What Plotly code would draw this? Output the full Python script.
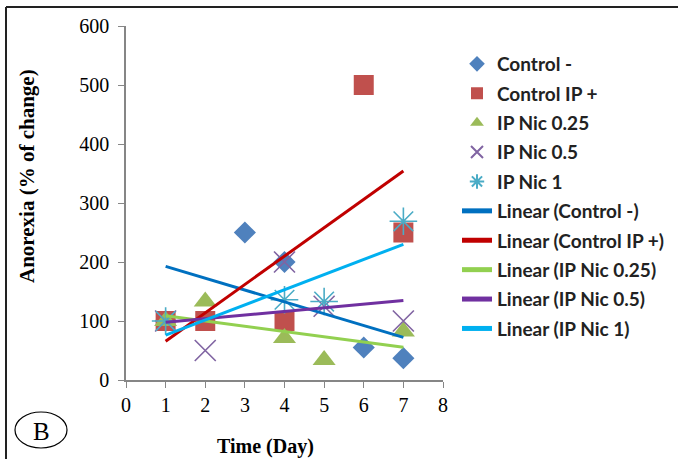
import numpy as np
import plotly.graph_objects as go

# Data
series_names = ["Control -", "Control IP +", "IP Nic 0.25", "IP Nic 0.5", "IP Nic 1"]
ctrl_neg_x = [1, 3, 4, 6, 7]
ctrl_neg_y = [100, 250, 200, 55, 37]
ctrl_pos_x = [1, 2, 4, 6, 7]
ctrl_pos_y = [100, 100, 100, 500, 250]
nic025_x = [1, 2, 4, 5, 7]
nic025_y = [100, 133, 71, 34, 82]
nic05_x = [1, 2, 4, 5, 7]
nic05_y = [100, 50, 200, 125, 100]
nic1_x = [1, 4, 5, 7]
nic1_y = [100, 136, 133, 269]

x_ticks = [0, 1, 2, 3, 4, 5, 6, 7, 8]
y_ticks = [0, 100, 200, 300, 400, 500, 600]

marker_colors = ["#4F81BD", "#C0504D", "#9BBB59", "#8064A2", "#4BACC6"]
line_colors = ["#0070C0", "#C00000", "#92D050", "#7030A0", "#00B0F0"]
symbols = ["diamond", "square", "triangle-up", "x-thin-open", "asterisk-open"]
sizes = [17, 20, 20, 21, 23]

data = [(ctrl_neg_x, ctrl_neg_y), (ctrl_pos_x, ctrl_pos_y), (nic025_x, nic025_y),
        (nic05_x, nic05_y), (nic1_x, nic1_y)]

W, H = 678, 459
L, R, T, B = 126, 235, 26, 79
PW, PH = W - L - R, H - T - B


def px(x):
    return (x - L) / PW


def py(y):
    return (H - B - y) / PH


fig = go.Figure()
for i, (xs, ys) in enumerate(data):
    mk = dict(symbol=symbols[i], size=sizes[i], color=marker_colors[i])
    if "open" in symbols[i]:
        mk["line"] = dict(color=marker_colors[i], width=1.6)
    fig.add_trace(go.Scatter(x=xs, y=ys, mode="markers", name=series_names[i],
                             marker=mk, legendgroup=f"m{i}"))

for i, (xs, ys) in enumerate(data):
    slope, intercept = np.polyfit(xs, ys, 1)
    lx = [min(xs), max(xs)]
    ly = [slope * v + intercept for v in lx]
    fig.add_trace(go.Scatter(x=lx, y=ly, mode="lines", name=f"Linear ({series_names[i]})",
                             line=dict(color=line_colors[i], width=3), legendgroup=f"l{i}"))

serif = "Liberation Serif"
fig.update_layout(
    width=W, height=H,
    margin=dict(l=L, r=R, t=T, b=B, autoexpand=False),
    paper_bgcolor="white", plot_bgcolor="white",
    showlegend=True,
    legend=dict(x=px(457), y=py(45), xanchor="left", yanchor="top",
                font=dict(family="Lato", size=19, color="#222", weight="bold"),
                itemsizing="constant", tracegroupgap=1.7, maxheight=1,
                bgcolor="rgba(0,0,0,0)"),
    xaxis=dict(range=[0, 8], tickvals=x_ticks, showgrid=False, zeroline=False,
               showline=True, linecolor="#868686", linewidth=1.5, automargin=False,
               ticks="outside", ticklen=6, tickcolor="#868686",
               tickfont=dict(family=serif, size=20, color="black")),
    yaxis=dict(range=[0, 600], tickvals=y_ticks, showgrid=False, zeroline=False,
               showline=True, linecolor="#868686", linewidth=1.5, automargin=False,
               ticks="outside", ticklen=6, tickcolor="#868686", ticklabelstandoff=5,
               tickfont=dict(family=serif, size=20, color="black")),
    shapes=[
        dict(type="line", xref="paper", yref="paper", x0=px(6), x1=px(680),
             y0=py(7), y1=py(7), line=dict(color="#222", width=2)),
        dict(type="line", xref="paper", yref="paper", x0=px(6), x1=px(6),
             y0=py(7), y1=py(462), line=dict(color="#222", width=2)),
        dict(type="circle", xref="paper", yref="paper", x0=px(15), x1=px(67),
             y0=py(448), y1=py(412), line=dict(color="black", width=1.2)),
    ],
    annotations=[
        dict(text="B", xref="paper", yref="paper", x=px(41), y=py(431),
             xanchor="center", yanchor="middle",
             showarrow=False, font=dict(family=serif, size=25, color="black")),
        dict(text="<b>Time (Day)</b>", xref="paper", yref="paper", x=px(265), y=py(446),
             xanchor="center", yanchor="middle",
             showarrow=False, font=dict(family=serif, size=20, color="black")),
        dict(text="<b>Anorexia (% of change)</b>", xref="paper", yref="paper", x=px(27), y=py(176),
             xanchor="center", yanchor="middle",
             showarrow=False, textangle=-90, font=dict(family=serif, size=21, color="black")),
    ],
)

fig.write_html("out.html", config={"displayModeBar": False},
               post_script="document.body.style.margin='0px';")
